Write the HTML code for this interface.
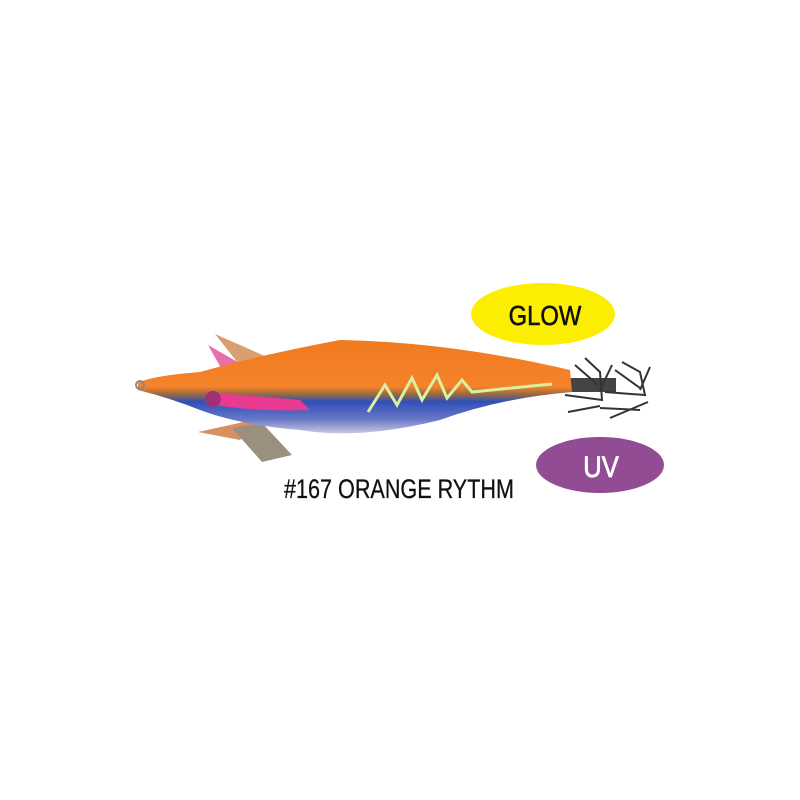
<!DOCTYPE html>
<html><head><style>html,body{margin:0;padding:0;background:#fff;width:800px;height:800px;overflow:hidden}</style></head>
<body>
<svg width="800" height="800" viewBox="0 0 800 800" xmlns="http://www.w3.org/2000/svg">
<defs>
<linearGradient id="bg" x1="0" y1="0" x2="0" y2="1">
<stop offset="0" stop-color="#f07a20"/><stop offset="0.5" stop-color="#f5832a"/><stop offset="0.58" stop-color="#9a6a40"/><stop offset="0.66" stop-color="#3050b8"/><stop offset="0.85" stop-color="#6878c8"/><stop offset="1" stop-color="#c8c8e0"/>
</linearGradient>
</defs>
<ellipse cx="543" cy="314" rx="72" ry="31" fill="#fcee00"/>
<text x="545" y="325" font-family="Liberation Sans, sans-serif" font-size="28" text-anchor="middle" fill="#111" stroke="#111" stroke-width="0.6" transform="translate(545 0) scale(0.85 1) translate(-545 0)">GLOW</text>
<ellipse cx="600" cy="465" rx="64" ry="28" fill="#924c94"/>
<text x="601" y="477" font-family="Liberation Sans, sans-serif" font-size="30" text-anchor="middle" fill="#fff" stroke="#fff" stroke-width="0.8" transform="translate(601 0) scale(0.85 1) translate(-601 0)">UV</text>
<path d="M215 334 L292 368 L245 372 Z" fill="#d8a070"/>
<path d="M208 345 L255 372 L225 375 Z" fill="#e870a8"/>
<path d="M198 432 L262 418 L240 440 Z" fill="#d89060"/>
<path d="M232 428 L262 423 L292 455 L262 462 Z" fill="#9a9080"/>
<rect x="568" y="378" width="48" height="14" fill="#444"/>
<g stroke="#333" stroke-width="2" fill="none">
<path d="M565 395 L602 400 L600 372 L585 358"/><path d="M600 390 L612 365"/>
<path d="M605 392 L645 395 L640 372 L622 362"/><path d="M640 390 L650 367"/>
<path d="M568 412 L600 406"/><path d="M600 408 L640 410"/><path d="M610 418 L648 402"/>
<path d="M575 365 L598 385"/><path d="M615 370 L640 388"/>
</g>
<path d="M138 383 Q150 376 200 372 Q260 355 340 340 Q450 342 570 370 L572 392 Q500 398 440 420 Q360 440 300 430 Q240 425 200 410 Q170 398 138 390 Z" fill="url(#bg)"/>
<path d="M368 412 L385 385 L397 405 L412 378 L422 400 L437 375 L447 398 L462 380 L472 392 L552 384" stroke="#d8f0a0" stroke-width="3" fill="none"/>
<path d="M205 392 Q240 395 300 400 L310 410 Q260 412 215 405 Z" fill="#e83a90"/>
<circle cx="213" cy="399" r="8" fill="#a0307a"/>
<circle cx="140" cy="385" r="4" fill="none" stroke="#888" stroke-width="2"/>
<text x="399" y="498" font-family="Liberation Sans, sans-serif" font-size="27" text-anchor="middle" fill="#111" stroke="#111" stroke-width="0.3" transform="translate(399 0) scale(0.8 1) translate(-399 0)">#167 ORANGE RYTHM</text>
</svg>
</body></html>
